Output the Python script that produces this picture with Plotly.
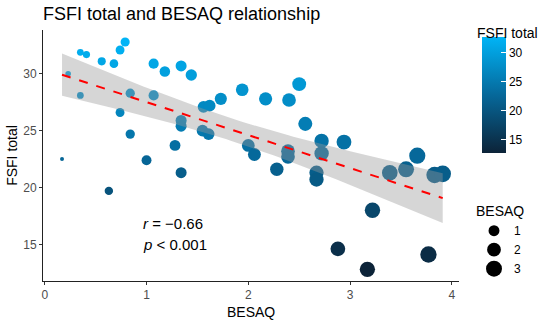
import numpy as np
import plotly.graph_objects as go

# ---- data ----
besaq = [0.17, 0.23, 0.35, 0.35, 0.41, 0.56, 0.68, 0.74, 0.79, 0.74, 0.84, 0.84,
         1.07, 1.18, 1.34, 1.44, 1.07, 1.28, 1.00, 1.34, 1.34, 1.34, 0.63, 1.56,
         1.62, 1.55, 1.61, 1.73, 1.94, 2.17, 2.40, 2.50, 2.56, 2.00, 2.06, 2.28,
         2.39, 2.39, 2.67, 2.67, 2.72, 2.72, 2.94, 3.22, 2.88, 3.17, 3.77, 3.39,
         3.55, 3.66, 3.83, 3.91]
fsfi = [22.5, 30.0, 28.1, 31.9, 31.7, 31.1, 30.9, 32.1, 32.8, 26.6, 24.7, 28.3,
        30.9, 30.2, 30.7, 29.9, 28.1, 23.7, 22.4, 21.3, 25.9, 25.4, 19.7, 27.1,
        27.2, 25.0, 24.7, 27.8, 28.6, 27.8, 27.7, 29.1, 25.6, 23.7, 22.9, 21.6,
        23.2, 22.7, 21.3, 20.7, 24.1, 23.0, 24.0, 18.0, 14.6, 12.8, 14.1, 21.3,
        21.6, 22.8, 21.1, 21.2]
x_ticks = [0, 1, 2, 3, 4]
y_ticks = [15, 20, 25, 30]
cb_ticks = [15, 20, 25, 30]
size_legend_values = [1, 2, 3]
stat_lines = ["<i>r</i> = \u22120.66", "<i>p</i> < 0.001"]

x = np.array(besaq)
y = np.array(fsfi)

colorscale = [[0.0, "#0C2338"], [0.5, "#06689A"], [1.0, "#00B4F6"]]

# ---- marker size scale (area-like) ----
xmin = x.min()
def size_of(v):
    return 4 + 6.5 * np.sqrt(np.maximum(np.asarray(v, dtype=float) - xmin, 0))

# ---- linear fit with 95% confidence band ----
slope, intercept = np.polyfit(x, y, 1)
n = len(x)
resid = y - (slope * x + intercept)
s = np.sqrt(np.sum(resid ** 2) / (n - 2))
sxx = np.sum((x - x.mean()) ** 2)
xf = np.linspace(x.min(), x.max(), 80)
yf = slope * xf + intercept
se = s * np.sqrt(1 / n + (xf - x.mean()) ** 2 / sxx)
tq = 2.009
upper = yf + tq * se
lower = yf - tq * se

FONT = "Liberation Sans, Arial, sans-serif"
W, H = 550, 323
ML, MR, MT, MB = 43, 91, 30, 42
PW, PH = W - ML - MR, H - MT - MB

fig = go.Figure()

fig.add_trace(go.Scatter(
    x=besaq, y=fsfi, mode='markers', showlegend=False,
    marker=dict(size=size_of(x), sizemode='diameter', color=fsfi,
                colorscale=colorscale, cmin=y.min(), cmax=y.max(),
                line=dict(width=0), opacity=1,
                colorbar=dict(
                    tickvals=cb_ticks, ticks="inside", ticklen=5, tickcolor="white",
                    tickwidth=1, tickfont=dict(size=12, color="black", family=FONT),
                    thickness=24, thicknessmode='pixels',
                    len=116, lenmode='pixels',
                    xref='container', x=482 / W, xanchor='left', xpad=0,
                    yref='container', y=1 - 47 / H, yanchor='top', ypad=0,
                    outlinewidth=0)),
    hoverinfo='skip'))

# confidence band
fig.add_trace(go.Scatter(
    x=np.concatenate([xf, xf[::-1]]), y=np.concatenate([upper, lower[::-1]]),
    fill='toself', fillcolor='rgba(153,153,153,0.4)', line=dict(width=0),
    mode='lines', showlegend=False, hoverinfo='skip'))

# regression line
fig.add_trace(go.Scatter(
    x=xf, y=yf, mode='lines', line=dict(color='red', width=2, dash='dash'),
    showlegend=False, hoverinfo='skip'))

# size legend entries
for v in size_legend_values:
    fig.add_trace(go.Scatter(
        x=[None], y=[None], mode='markers', name=str(v),
        marker=dict(size=float(size_of(v)) + 1, color='black'),
        showlegend=True, legendgroup='size'))

for i, txt in enumerate(stat_lines):
    fig.add_annotation(x=0.95, y=[16.8, 15.0][i], xref='x', yref='y', text=txt,
                       showarrow=False, xanchor='left', yanchor='middle',
                       font=dict(size=15, color='black', family=FONT))

# colour bar title
fig.add_annotation(x=(475 - ML) / PW, y=(H - MB - 33) / PH, xref='paper', yref='paper',
                   text="FSFI total", showarrow=False, xanchor='left', yanchor='middle',
                   font=dict(size=14, color='black', family=FONT))

# x axis title
fig.add_annotation(x=0.5, y=-(312 - (H - MB)) / PH, xref='paper', yref='paper',
                   text="BESAQ", showarrow=False, xanchor='center', yanchor='middle',
                   borderpad=0, font=dict(size=14, color='black', family=FONT))

axis_common = dict(showgrid=False, zeroline=False, showline=True, linecolor='#222',
                   linewidth=1, ticks='outside', ticklen=3, tickcolor='#333',
                   automargin=False,
                   tickfont=dict(size=12, color='#4D4D4D', family=FONT))

fig.update_layout(
    width=W, height=H,
    margin=dict(l=ML, r=MR, t=MT, b=MB, autoexpand=False),
    paper_bgcolor='white', plot_bgcolor='white',
    font=dict(family=FONT),
    title=dict(text="FSFI total and BESAQ relationship", xref='paper', x=0, xanchor='left',
               yref='container', y=1 - 14 / H, yanchor='middle',
               font=dict(size=18, color='black', family=FONT)),
    xaxis=dict(range=[-0.017, 4.07], tickvals=x_ticks, **axis_common),
    yaxis=dict(range=[11.77, 33.86], tickvals=y_ticks,
               title=dict(text="FSFI total", font=dict(size=14, color='black', family=FONT), standoff=2),
               **axis_common),
    legend=dict(title=dict(text="BESAQ", font=dict(size=14, color='black', family=FONT)),
                font=dict(size=12, color='black', family=FONT),
                xref='container', x=474 / W, xanchor='left',
                yref='container', y=1 - 198 / H, yanchor='top',
                itemsizing='trace', tracegroupgap=0, bgcolor='rgba(0,0,0,0)'),
)

fig.write_html("out.html", config={"displayModeBar": False},
               post_script="document.body.style.margin='0';document.body.style.padding='0';")
